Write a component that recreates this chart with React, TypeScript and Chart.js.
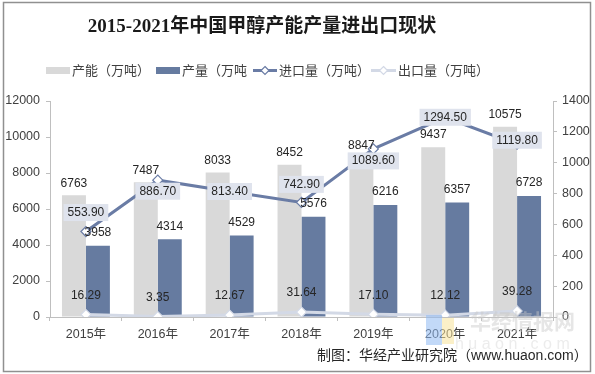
import React, { useEffect, useRef } from "react";
import { Chart, registerables } from "chart.js";

Chart.register(...registerables);

const categories = ["2015年", "2016年", "2017年", "2018年", "2019年", "2020年", "2021年"];
const capacity = [6763, 7487, 8033, 8452, 8847, 9437, 10575];
const output = [3958, 4314, 4529, 5576, 6216, 6357, 6728];
const imports = [553.9, 886.7, 813.4, 742.9, 1089.6, 1294.5, 1119.8];
const exportsQ = [16.29, 3.35, 12.67, 31.64, 17.1, 12.12, 39.28];
const leftTicks = { min: 0, max: 12000, step: 2000 };
const rightTicks = { min: 0, max: 1400, step: 200 };
const legendLabels = ["产能（万吨）", "产量（万吨", "进口量（万吨）", "出口量（万吨）"];
const titleText = "2015-2021年中国甲醇产能产量进出口现状";
const sourceText = "制图：华经产业研究院（www.huaon.com）";

// label placement offsets (styling only)
const importLabelOffsets = [-19, 11, 0, -18, 12, 0, -4];

const C_CAP = "#d9d9d9";
const C_OUT = "#667ba0";
const C_IMP = "#6a7ca5";
const C_EXP = "#d3d9e6";
const SANS = "'Liberation Sans', 'Noto Sans CJK SC', sans-serif";

function diamond(ctx: CanvasRenderingContext2D, x: number, y: number, r: number, stroke: string) {
  ctx.beginPath();
  ctx.moveTo(x, y - r);
  ctx.lineTo(x + r, y);
  ctx.lineTo(x, y + r);
  ctx.lineTo(x - r, y);
  ctx.closePath();
  ctx.fillStyle = "#fff";
  ctx.fill();
  ctx.lineWidth = 1.2;
  ctx.strokeStyle = stroke;
  ctx.stroke();
}

const decorPlugin = {
  id: "decor",
  beforeDraw(chart: any) {
    const ctx = chart.ctx as CanvasRenderingContext2D;
    ctx.save();
    ctx.fillStyle = "#fff";
    ctx.fillRect(0, 0, chart.width, chart.height);
    ctx.strokeStyle = "#909090";
    ctx.lineWidth = 1.5;
    ctx.strokeRect(3.5, 2.5, 587, 369);
    // title
    ctx.fillStyle = "#1a1a1a";
    ctx.font = "bold 19px 'Liberation Serif', 'Noto Sans CJK SC', serif";
    ctx.textAlign = "center";
    ctx.textBaseline = "middle";
    ctx.fillText(titleText, 262, 27);
    // legend
    ctx.font = "13px 'Noto Sans CJK SC', sans-serif";
    ctx.textAlign = "left";
    const ly = 70.5;
    ctx.fillStyle = C_CAP;
    ctx.fillRect(46, ly - 3.5, 24, 7);
    ctx.fillStyle = "#404040";
    ctx.fillText(legendLabels[0], 72, ly);
    ctx.fillStyle = C_OUT;
    ctx.fillRect(156, ly - 3.5, 24, 7);
    ctx.fillStyle = "#404040";
    ctx.fillText(legendLabels[1], 182, ly);
    ctx.strokeStyle = C_IMP;
    ctx.lineWidth = 3;
    ctx.beginPath();
    ctx.moveTo(253, ly);
    ctx.lineTo(277, ly);
    ctx.stroke();
    diamond(ctx, 265, ly, 4, C_IMP);
    ctx.fillStyle = "#404040";
    ctx.fillText(legendLabels[2], 279, ly);
    ctx.strokeStyle = C_EXP;
    ctx.lineWidth = 3;
    ctx.beginPath();
    ctx.moveTo(371, ly);
    ctx.lineTo(396, ly);
    ctx.stroke();
    diamond(ctx, 383.5, ly, 4, C_EXP);
    ctx.fillStyle = "#404040";
    ctx.fillText(legendLabels[3], 398, ly);
    ctx.restore();
  },
  afterDatasetsDraw(chart: any) {
    const ctx = chart.ctx as CanvasRenderingContext2D;
    ctx.save();
    ctx.font = "12px " + SANS;
    ctx.textAlign = "center";
    ctx.textBaseline = "middle";
    const metaCap = chart.getDatasetMeta(0);
    const metaOut = chart.getDatasetMeta(1);
    const metaImp = chart.getDatasetMeta(2);
    const metaExp = chart.getDatasetMeta(3);
    ctx.fillStyle = "#262626";
    metaCap.data.forEach((el: any, i: number) => {
      ctx.fillText(String(capacity[i]), el.x, el.y - 12);
    });
    metaOut.data.forEach((el: any, i: number) => {
      ctx.fillText(String(output[i]), el.x, el.y - 13);
    });
    metaExp.data.forEach((el: any, i: number) => {
      ctx.fillText(exportsQ[i].toFixed(2), el.x, el.y - 19);
    });
    metaImp.data.forEach((el: any, i: number) => {
      const t = imports[i].toFixed(2);
      const w = ctx.measureText(t).width + 8;
      const cy = el.y + importLabelOffsets[i];
      ctx.fillStyle = "#dfe3ed";
      ctx.fillRect(el.x - w / 2, cy - 8.5, w, 17);
      ctx.fillStyle = "#262626";
      ctx.fillText(t, el.x, cy);
    });
    ctx.restore();
  },
  afterDraw(chart: any) {
    const ctx = chart.ctx as CanvasRenderingContext2D;
    ctx.save();
    // watermark
    ctx.globalAlpha = 0.55;
    ctx.fillStyle = "#8fbaf2";
    ctx.fillRect(426, 315, 16, 30);
    ctx.fillStyle = "#f7e39a";
    ctx.fillRect(442, 318, 12, 26);
    ctx.globalAlpha = 0.45;
    ctx.fillStyle = "#c8c8c8";
    ctx.font = "bold 21px 'Noto Sans CJK SC', sans-serif";
    ctx.textAlign = "left";
    ctx.textBaseline = "middle";
    ctx.fillText("华经情报网", 470, 321);
    ctx.globalAlpha = 0.35;
    ctx.font = "16px " + SANS;
    ctx.fillText("h u a o n . c o m", 455, 345);
    ctx.globalAlpha = 1;
    // source
    ctx.fillStyle = "#262626";
    ctx.font = "14px " + SANS;
    ctx.textAlign = "left";
    ctx.fillText(sourceText, 317, 356);
    ctx.restore();
  },
};

export default function App() {
  const ref = useRef<HTMLCanvasElement>(null);
  useEffect(() => {
    document.body.style.margin = "0";
    const canvas = ref.current!;
    const axisColor = "#bfbfbf";
    const tickFont = { family: SANS, size: 12.5 };
    const plain = (v: any) => String(v);
    const chart = new Chart(canvas, {
      type: "bar",
      data: {
        labels: categories,
        datasets: [
          { type: "bar", label: legendLabels[0], data: capacity, backgroundColor: C_CAP, yAxisID: "y", order: 3, categoryPercentage: 0.667, barPercentage: 1 },
          { type: "bar", label: legendLabels[1], data: output, backgroundColor: C_OUT, yAxisID: "y", order: 4, categoryPercentage: 0.667, barPercentage: 1 },
          { type: "line", label: legendLabels[2], data: imports, borderColor: C_IMP, borderWidth: 3, yAxisID: "y1", order: 1, pointStyle: "rectRot", pointRadius: 5, pointBackgroundColor: "#fff", pointBorderColor: C_IMP, pointBorderWidth: 1.2, tension: 0 },
          { type: "line", label: legendLabels[3], data: exportsQ, borderColor: C_EXP, borderWidth: 3, yAxisID: "y1", order: 2, pointStyle: "rectRot", pointRadius: 5, pointBackgroundColor: "#fff", pointBorderColor: C_EXP, pointBorderWidth: 1.2, tension: 0 },
        ] as any,
      },
      options: {
        responsive: false,
        animation: false,
        devicePixelRatio: 1,
        layout: { padding: { top: 101, left: 0, right: 0, bottom: 0 } },
        plugins: { legend: { display: false }, title: { display: false }, tooltip: { enabled: false } },
        scales: {
          x: {
            offset: true,
            grid: { drawOnChartArea: false, drawTicks: true, tickLength: 4, color: axisColor, offset: true },
            border: { display: true, color: axisColor },
            ticks: { font: tickFont, color: "#404040", padding: 6, maxRotation: 0 },
            afterFit(scale: any) { scale.height = 57; },
          },
          y: {
            position: "left",
            min: leftTicks.min,
            max: leftTicks.max,
            grid: { drawOnChartArea: false, tickLength: 4, color: axisColor },
            border: { display: true, color: axisColor },
            ticks: { stepSize: leftTicks.step, font: tickFont, color: "#404040", padding: 6, callback: plain },
            afterFit(scale: any) { scale.width = 50; },
          },
          y1: {
            position: "right",
            min: rightTicks.min,
            max: rightTicks.max,
            grid: { drawOnChartArea: false, tickLength: 4, color: axisColor },
            border: { display: true, color: axisColor },
            ticks: { stepSize: rightTicks.step, font: tickFont, color: "#404040", padding: 5, callback: plain },
            afterFit(scale: any) { scale.width = 42; },
          },
        },
      } as any,
      plugins: [decorPlugin],
    });
    return () => chart.destroy();
  }, []);
  return <canvas ref={ref} width={595} height={374} style={{ display: "block" }} />;
}
